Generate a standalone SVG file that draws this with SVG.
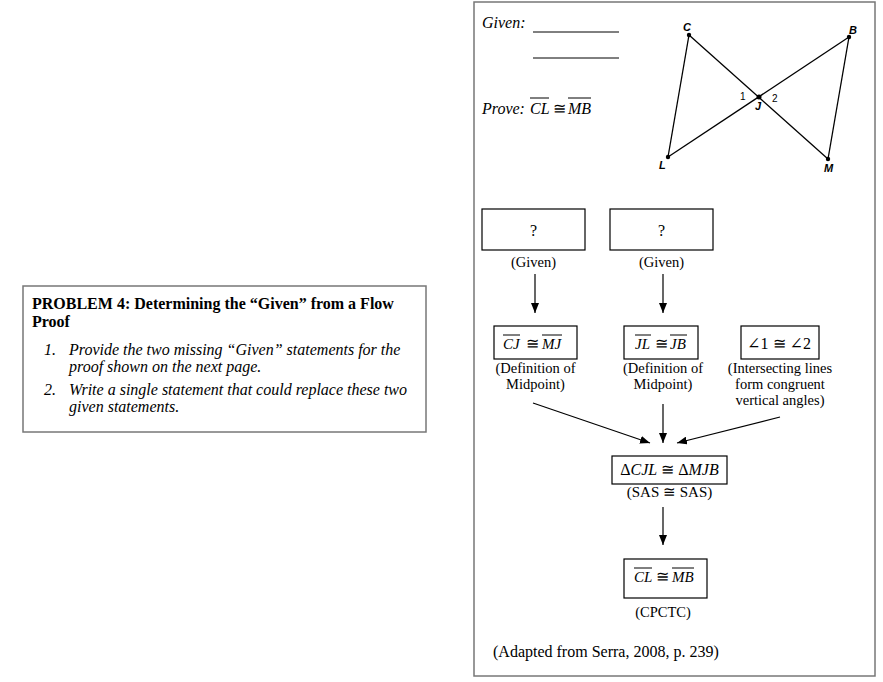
<svg xmlns="http://www.w3.org/2000/svg" width="883" height="682" viewBox="0 0 883 682">
<defs>
<marker id="ah" markerWidth="10" markerHeight="8" refX="10" refY="4" orient="auto" markerUnits="userSpaceOnUse">
<path d="M0,0 L10,4 L0,8 Z" fill="#000"/>
</marker>
<style>
.frame{fill:#fff;stroke:#777;stroke-width:1.5}
.box{fill:#fff;stroke:#000;stroke-width:1.2}
.t{font-family:"Liberation Serif","DejaVu Serif",serif;font-size:16px;fill:#000}
.s{font-size:14.5px}
.mt{font-size:15px}
.i{font-style:italic}
.b{font-weight:bold}
.m{text-anchor:middle}
.ov{stroke:#000;stroke-width:1}
.conn{stroke:#000;stroke-width:1.2;fill:none;marker-end:url(#ah)}
.seg{stroke:#000;stroke-width:1.3}
.lbl{font-family:"Liberation Sans","DejaVu Sans",sans-serif;font-size:11px;font-weight:bold;font-style:italic;fill:#000}
.num{font-family:"Liberation Sans","DejaVu Sans",sans-serif;font-size:10px;fill:#000}
</style>
</defs>
<rect width="883" height="682" fill="#fff"/>

<g id="problem">
<rect class="frame" x="23" y="286" width="403" height="146"/>
<text class="t b" x="32" y="309">PROBLEM 4: Determining the “Given” from a Flow</text>
<text class="t b" x="32" y="327">Proof</text>
<text class="t i" x="44" y="355">1.</text>
<text class="t i" x="69" y="355">Provide the two missing “Given” statements for the</text>
<text class="t i" x="69" y="372">proof shown on the next page.</text>
<text class="t i" x="44" y="395">2.</text>
<text class="t i" x="69" y="395">Write a single statement that could replace these two</text>
<text class="t i" x="69" y="412">given statements.</text>
</g>

<g id="panel">
<rect class="frame" x="474" y="2" width="401" height="674"/>
</g>

<g id="given-prove">
<text class="t i" x="482" y="28">Given:</text>
<line class="ov" x1="533" y1="32" x2="619" y2="32" stroke="#555"/>
<line class="ov" x1="533" y1="58" x2="619" y2="58" stroke="#555"/>
<text class="t i" x="482" y="114">Prove:</text>
<text class="t i" x="530" y="114">CL</text>
<text class="t" x="559" y="114" text-anchor="middle">≅</text>
<text class="t i" x="568" y="114">MB</text>
<line class="ov" x1="530" y1="98" x2="549" y2="98"/>
<line class="ov" x1="568" y1="98" x2="591" y2="98"/>
</g>

<g id="figure">
<line class="seg" x1="689" y1="35" x2="668" y2="157"/>
<line class="seg" x1="689" y1="35" x2="828" y2="159"/>
<line class="seg" x1="668" y1="157" x2="849" y2="37"/>
<line class="seg" x1="849" y1="37" x2="828" y2="159"/>
<circle cx="689" cy="35" r="2.2"/>
<circle cx="849" cy="37" r="2.2"/>
<circle cx="759" cy="97" r="2.5"/>
<circle cx="668" cy="157" r="2.2"/>
<circle cx="828" cy="159" r="2.2"/>
<text class="lbl" x="683" y="31">C</text>
<text class="lbl" x="849" y="34">B</text>
<text class="lbl" x="755" y="110">J</text>
<text class="lbl" x="659" y="169">L</text>
<text class="lbl" x="824" y="172">M</text>
<text class="num" x="740" y="100">1</text>
<text class="num" x="772" y="102">2</text>
</g>

<g id="given1">
<rect class="box" x="482" y="209" width="103" height="41"/>
<text class="t m" x="533.5" y="236">?</text>
<text class="t s m" x="533.5" y="267">(Given)</text>
</g>
<g id="given2">
<rect class="box" x="610" y="209" width="103" height="41"/>
<text class="t m" x="661.5" y="236">?</text>
<text class="t s m" x="661.5" y="267">(Given)</text>
</g>

<g id="cj-mj">
<rect class="box" x="494" y="326" width="83" height="33"/>
<text class="t mt i" x="503" y="349">CJ</text>
<text class="t m" x="532" y="349">≅</text>
<text class="t mt i" x="542" y="349">MJ</text>
<line class="ov" x1="503" y1="335" x2="520" y2="335"/>
<line class="ov" x1="542" y1="335" x2="562" y2="335"/>
<text class="t s m" x="535.5" y="373">(Definition of</text>
<text class="t s m" x="535.5" y="389">Midpoint)</text>
</g>

<g id="jl-jb">
<rect class="box" x="624" y="326" width="74" height="33"/>
<text class="t mt i" x="635" y="349">JL</text>
<text class="t m" x="661" y="349">≅</text>
<text class="t mt i" x="670" y="349">JB</text>
<line class="ov" x1="635" y1="335" x2="651" y2="335"/>
<line class="ov" x1="670" y1="335" x2="687" y2="335"/>
<text class="t s m" x="663" y="373">(Definition of</text>
<text class="t s m" x="663" y="389">Midpoint)</text>
</g>

<g id="angles">
<rect class="box" x="741" y="326" width="78" height="33"/>
<text class="t m" x="779" y="349">∠1 ≅ ∠2</text>
<text class="t s m" x="780" y="373">(Intersecting lines</text>
<text class="t s m" x="780" y="389">form congruent</text>
<text class="t s m" x="780" y="405">vertical angles)</text>
</g>

<g id="triangles">
<rect class="box" x="612" y="456" width="115" height="28"/>
<text class="t m" x="669.5" y="475">Δ<tspan class="i">CJL</tspan> ≅ Δ<tspan class="i">MJB</tspan></text>
<text class="t mt m" x="669.5" y="497">(SAS  ≅  SAS)</text>
</g>

<g id="conclusion">
<rect class="box" x="624" y="559" width="83" height="39"/>
<text class="t mt i" x="634" y="582">CL</text>
<text class="t m" x="662" y="582">≅</text>
<text class="t mt i" x="672" y="582">MB</text>
<line class="ov" x1="634" y1="568" x2="652" y2="568"/>
<line class="ov" x1="672" y1="568" x2="694" y2="568"/>
<text class="t s m" x="663" y="617">(CPCTC)</text>
</g>

<g id="source">
<text class="t" x="493" y="657">(Adapted from Serra, 2008, p. 239)</text>
</g>

<g id="connectors">
<line class="conn" x1="535" y1="274" x2="535" y2="313"/>
<line class="conn" x1="663" y1="274" x2="663" y2="313"/>
<line class="conn" x1="533" y1="403" x2="650" y2="443"/>
<line class="conn" x1="663" y1="404" x2="663" y2="443"/>
<line class="conn" x1="780" y1="417" x2="677" y2="443"/>
<line class="conn" x1="663" y1="507" x2="663" y2="545"/>
</g>
</svg>
